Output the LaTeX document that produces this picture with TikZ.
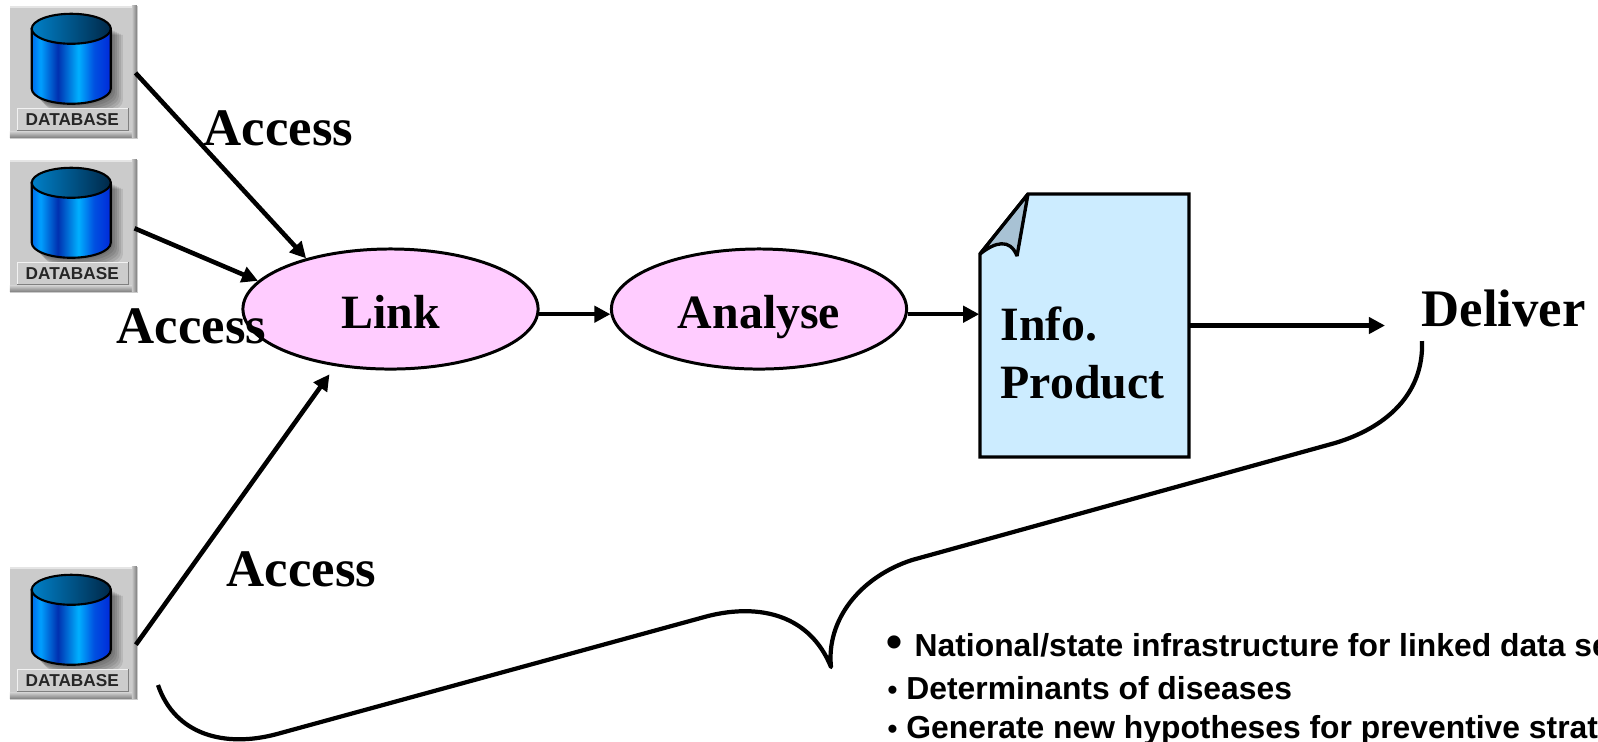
\documentclass[tikz,border=0pt]{standalone}
\usepackage{fontspec}
\setmainfont{Liberation Serif}
\setsansfont{Liberation Sans}
\usetikzlibrary{arrows.meta,shapes.geometric}
\definecolor{ovalpink}{HTML}{FFCCFF}
\definecolor{docblue}{HTML}{CCECFF}
\definecolor{foldblue}{HTML}{A8C2D4}
\definecolor{tilegray}{HTML}{CBCBCB}
\definecolor{lidleft}{HTML}{0080C8}
\definecolor{lidright}{HTML}{002848}
\definecolor{bodya}{HTML}{0040E0}
\definecolor{bodyb}{HTML}{0078F0}
\definecolor{bodyc}{HTML}{00A0FF}
\definecolor{bodyd}{HTML}{0030B0}
\definecolor{bodye}{HTML}{00B0FF}
\definecolor{bodyf}{HTML}{0050E0}
\definecolor{bodyg}{HTML}{0020D8}
\pgfdeclarehorizontalshading{dbbody}{79bp}{
  color(0bp)=(bodya);
  color(16bp)=(bodyb);
  color(20bp)=(bodyc);
  color(31bp)=(bodyd);
  color(44bp)=(bodye);
  color(54bp)=(bodyf);
  color(67bp)=(bodyg);
  color(79bp)=(bodyg)}
\tikzset{
  mainline/.style={line width=1.3pt, -{Triangle[length=1.6mm,width=1.6mm]}},
  oval/.style={ellipse, draw, line width=0.85pt, fill=ovalpink, minimum width=2.95cm, minimum height=1.2cm, inner sep=0pt, text height=10.8pt, text depth=0pt, font=\fontsize{13.6}{16}\selectfont\bfseries},
  biglabel/.style={anchor=base west, inner sep=0pt, font=\fontsize{15}{17}\selectfont\bfseries},
  midlabel/.style={anchor=base west, inner sep=0pt, font=\fontsize{13.6}{16.5}\selectfont\bfseries},
  itemline/.style={anchor=base west, inner sep=0pt, font=\fontsize{9.05}{11}\selectfont\sffamily\bfseries},
  dbtile/.style={fill=tilegray, minimum width=1.27cm, minimum height=1.32cm, inner sep=0pt},
  dbicon/.pic={
    % bevel of the tile
    \shade [top color=tilegray, bottom color=gray] (0,126) rectangle (127,132);
    \shade [left color=tilegray, right color=gray] (122,0) rectangle (127,132);
    \fill [gray!20!white] (0,0) rectangle (122,2);
    % soft shadow of the cylinder
    \foreach \s in {12,10,8,6,4,2}
      \fill [black, opacity=0.09] (22+\s,23+\s/2) -- (22+\s,83+\s) arc (180:360:39.5 and -15) -- (101+\s,23+\s/2) -- cycle;
    % cylinder
    \shade [shading=dbbody, draw=black, line width=0.6pt] (22,23) -- (22,83) arc (180:360:39.5 and -15) -- (101,23) -- cycle;
    \shade [left color=lidleft, right color=lidright, draw=black, line width=0.6pt] (61.5,23) ellipse (39.5 and 15);
    % plate with the text
    \fill [gray] (7,102) rectangle (119,125);
    \fill [gray!10!white] (7,102) rectangle (118,124);
    \fill [gray!40!white] (8,103) rectangle (118,124);
    \node [inner sep=0pt, font=\fontsize{4.9}{6}\selectfont\sffamily\bfseries, text=black!85] at (62.5,113.5) {DATABASE};
  }
}
\begin{document}
\begin{tikzpicture}[x=0.01cm,y=-0.01cm]
\useasboundingbox (0,0) rectangle (1598,741);
\clip (0,0) rectangle (1598,741);

% Drawing databases
\node [dbtile] (db1) at (74,72.5) {};
\pic at (db1.north west) {dbicon};
\node [dbtile] (db2) at (74,226.5) {};
\pic at (db2.north west) {dbicon};
\node [dbtile] (db3) at (74,633.5) {};
\pic at (db3.north west) {dbicon};

% Drawing ovals
\node [oval] (link) at (390.5,309) {Link};
\node [oval] (analyse) at (759,309) {Analyse};

% Drawing document
\draw [line width=0.95pt, fill=docblue, miter limit=2] (1028,194) -- (1189,194) -- (1189,457) -- (980,457) -- (980,254) -- cycle;
\draw [line width=0.95pt, fill=foldblue, miter limit=2] (980,254) -- (1028,194) -- (1017,256) .. controls (1010,238) and (995,242) .. (980,254) -- cycle;
\node [minimum width=2.09cm, minimum height=2.63cm, inner sep=0pt] (infoprod) at (1084.5,325.5) {};
\node [midlabel] (infotext) at (1000,340) {Info.};
\node [midlabel] (prodtext) at (1000,398) {Product};

% Drawing labels
\node [biglabel] (access1) at (203,145) {Access};
\node [biglabel] (access2) at (116,343) {Access};
\node [biglabel] (access3) at (226,586) {Access};
\node [biglabel] (deliver) at (1421,326) {Deliver};

% Drawing arrows
\draw [mainline, shorten <=-0.04cm] (db1.-3) -- (link.149);
\draw [mainline, shorten <=-0.04cm] (db2.-3) -- (link.168);
\draw [mainline, shorten <=-0.04cm, shorten >=0.1cm] (db3.-7) -- (link.226);
\draw [mainline] (link.-2.3) -- (analyse.182.3);
\draw [mainline] (analyse.-2.3) -- (analyse.-2.3 -| infoprod.west);
\draw [mainline, shorten >=0.36cm] (infoprod.east) -- (infoprod.east -| deliver.west);

% Drawing brace
\draw [line width=1.2pt, line join=round] (1422,341) .. controls (1424,395) and (1385,428) .. (1335,443) -- (912,560) .. controls (860,577) and (826,620) .. (831,667) .. controls (810,615) and (760,603) .. (708,616) -- (277,734) .. controls (225,748) and (175,735) .. (158,685);

% Drawing list
\node [itemline, font=\fontsize{13}{14}\selectfont\sffamily\bfseries] (bullet1) at (886,657) {•};
\node [itemline] (item1) at (914,656) {National/state infrastructure for linked data se};
\node [itemline] (item2) at (887,699) {{\fontsize{8}{9}\selectfont •} Determinants of diseases};
\node [itemline] (item3) at (887,738) {{\fontsize{8}{9}\selectfont •} Generate new hypotheses for preventive strat};
\end{tikzpicture}
\end{document}
